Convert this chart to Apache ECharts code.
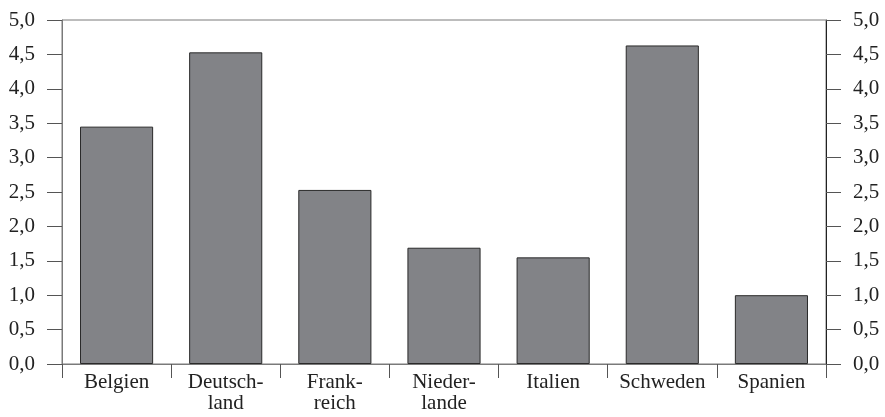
<!DOCTYPE html>
<html>
<head>
<meta charset="utf-8">
<script src="https://cdn.jsdelivr.net/npm/echarts@6/dist/echarts.min.js"></script>
<style>
  html, body { margin: 0; padding: 0; background: #fff; }
  #chart { width: 885px; height: 417px; }
</style>
</head>
<body>
<div id="chart"></div>
<script>
  // Laender und Werte
  var countries = ['Belgien', 'Deutsch-\nland', 'Frank-\nreich', 'Nieder-\nlande', 'Italien', 'Schweden', 'Spanien']
  var values = [3.45, 4.53, 2.53, 1.69, 1.55, 4.63, 1.00]
  var yMin = 0
  var yMax = 5
  var yStep = 0.5

  var font = 'Liberation Serif'
  var fmt = function (v) { return v.toFixed(1).replace('.', ',') }

  var chart = echarts.init(document.getElementById('chart'))
  chart.setOption({
    animation: false,
    grid: {
      left: 62, right: 59, top: 20, bottom: 53,
      show: true, borderColor: '#7a7a7a', borderWidth: 1
    },
    xAxis: {
      type: 'category',
      data: countries,
      axisLine: { show: true, lineStyle: { color: '#7a7a7a', width: 1 } },
      axisTick: { show: true, length: 14, lineStyle: { color: '#555' } },
      axisLabel: { fontFamily: font, fontSize: 21, color: '#222', margin: 8, lineHeight: 21, interval: 0 }
    },
    yAxis: [
      {
        type: 'value', position: 'left', min: yMin, max: yMax, interval: yStep,
        splitLine: { show: false },
        axisLine: { show: true, lineStyle: { color: '#7a7a7a' } },
        axisTick: { show: true, length: 15, lineStyle: { color: '#555' } },
        axisLabel: { fontFamily: font, fontSize: 21, color: '#222', margin: 27, formatter: fmt }
      },
      {
        type: 'value', position: 'right', min: yMin, max: yMax, interval: yStep,
        splitLine: { show: false },
        axisLine: { show: true, lineStyle: { color: '#222' } },
        axisTick: { show: true, length: 15, lineStyle: { color: '#555' } },
        axisLabel: { fontFamily: font, fontSize: 21, color: '#222', margin: 27, formatter: fmt }
      }
    ],
    series: [{
      type: 'bar',
      data: values,
      barWidth: '67%',
      itemStyle: { color: '#828387', borderColor: '#2a2a2a', borderWidth: 1 }
    }]
  })
</script>
</body>
</html>
